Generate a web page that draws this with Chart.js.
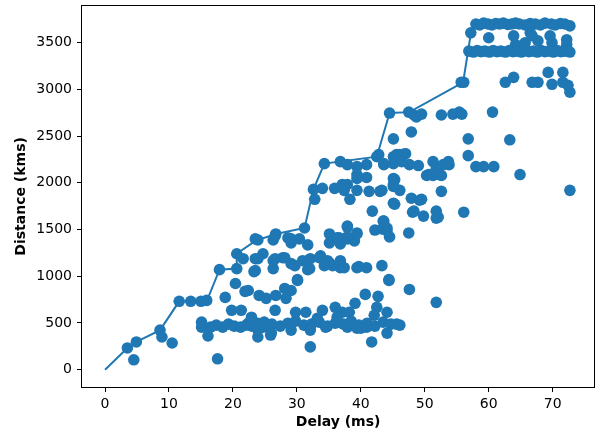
<!DOCTYPE html>
<html>
<head>
<meta charset="utf-8">
<script src="https://cdn.jsdelivr.net/npm/chart.js@4"></script>
<style>
  html, body { margin: 0; padding: 0; background: #fff; }
  #wrap { width: 600px; height: 434px; }
</style>
</head>
<body>
<div id="wrap"><canvas id="chart"></canvas></div>
<script>
// frontier line (delay ms, distance km)
const frontierDelay = [0, 3.5, 4.9, 8.6, 11.6, 15.9, 17.9, 20.6, 20.6, 23.5, 26.7, 31.2, 32.6, 34.3, 42.5, 44.5, 47.6, 56.0, 57.2];
const frontierDistance = [0, 233, 297, 424, 732, 732, 1071, 1082, 1241, 1379, 1453, 1517, 1930, 2206, 2280, 2747, 2757, 3076, 3595];

// measured points
const delayMs = [
  3.5, 4.9, 4.5, 8.6, 8.9, 10.5, 11.6, 13.4, 15.0, 15.9, 17.9, 20.6, 20.6, 21.6, 23.9, 23.3, 20.4, 21.9, 18.8, 24.1,
  15.1, 15.1, 16.1, 17.6, 19.8, 21.3, 16.5, 17.4, 18.4, 19.3, 20.2, 21.2, 22.1, 23.0, 23.9, 24.7, 23.9,
  30.1, 22.4, 25.2, 26.7, 28.1, 29.1, 28.3, 26.6, 29.8, 31.4, 34.0, 36.0, 37.1, 39.1, 38.2, 40.7, 42.7, 44.4, 47.6,
  51.8, 42.5, 44.1, 42.1,
  22.4, 23.6, 24.9, 26.1, 27.4, 28.6, 29.8, 31.1, 32.3, 33.5, 34.8, 36.0, 37.3, 38.5, 39.7, 41.0, 42.2, 43.5, 44.7, 46.1,
  22.9, 25.9, 32.1, 41.7, 44.1, 45.6, 33.2, 36.3, 37.9, 39.4, 40.9,
  23.9, 26.0, 29.1, 32.1, 34.5, 40.0,
  41.8, 43.5, 42.2, 43.3, 44.5, 47.5, 37.9, 35.1, 35.1, 36.6, 37.9, 39.4, 39.0, 36.8, 31.7, 31.2, 29.1, 26.6, 23.9,
  33.7, 35.1, 36.8, 36.8, 35.6, 39.4, 40.9, 43.3, 44.4, 30.1, 31.7, 31.7, 29.1, 27.8, 26.3, 26.3, 24.7,
  34.3, 36.8, 37.9, 39.4, 40.9, 42.5, 43.6, 45.1, 46.1, 46.9, 47.6, 49.0, 51.3, 51.8, 52.9, 50.6, 52.3,
  39.4, 40.9, 39.4, 45.1, 45.1, 46.1,
  32.6, 34.0, 35.9, 37.1, 37.9, 37.4, 39.4, 41.3, 43.0, 38.3, 32.8, 45.1, 47.9, 49.2, 52.6, 48.1, 49.8, 51.8, 51.8, 44.1,
  23.5, 26.7, 26.3, 28.6, 29.1, 30.4, 37.9, 39.4, 37.9, 36.3,
  23.5, 26.6, 28.1, 29.7, 30.9, 32.1, 33.5, 34.8, 34.3, 37.4, 39.7, 32.0, 23.5,
  44.5, 47.5, 48.3, 48.7, 49.5, 52.6, 54.4, 55.4, 55.8, 60.6, 72.7, 45.1, 47.9, 56.8, 63.3, 56.8,
  42.8, 45.6, 47.0, 43.6, 45.1, 46.4, 53.7, 53.8, 50.3, 51.3, 52.6, 58.0, 59.2, 60.8, 64.9, 72.7,
  45.3, 45.1, 43.3, 49.5, 45.3, 48.3, 52.1, 56.1, 43.6, 44.1,
  57.2, 60.0, 63.9, 64.2, 66.5, 66.8, 69.6, 69.9, 72.2, 72.2, 65.7, 67.7,
  56.1, 55.7, 62.6, 63.9, 66.8, 67.7, 69.3, 69.9, 71.6, 71.6, 72.4,
  58.0, 58.6, 59.2, 59.9, 60.5, 61.1, 61.7, 62.3, 63.0, 63.6, 64.2, 64.8, 65.7, 66.5, 67.3, 68.1, 68.8, 69.8, 70.4, 71.2, 71.9, 72.7,
  56.9, 57.6, 58.2, 58.8, 59.4, 60.1, 60.7, 61.3, 61.9, 62.6, 63.2, 63.8, 64.4, 65.1, 65.7, 66.3, 67.0, 67.6, 68.2, 68.8, 69.5, 70.1, 70.7, 71.3, 71.9, 72.7
];
const distanceKm = [
  233, 297, 106, 424, 350, 286, 732, 732, 732, 742, 1071, 1082, 1241, 1188, 1188, 1050, 923, 838, 774, 795,
  509, 456, 361, 117, 636, 636, 456, 477, 456, 488, 467, 456, 477, 467, 498, 456, 350,
  955, 848, 764, 795, 870, 848, 764, 636, 615, 615, 636, 668, 615, 711, 615, 806, 785, 955, 859,
  721, 668, 615, 583,
  498, 477, 509, 488, 467, 498, 519, 477, 488, 509, 467, 498, 488, 519, 477, 498, 467, 509, 488, 477,
  562, 371, 244, 297, 392, 488, 551, 562, 456, 445, 456,
  424, 392, 424, 424, 456, 445,
  1697, 1591, 1495, 1506, 1421, 1464, 1527, 1453, 1358, 1411, 1421, 1464, 1379, 1347, 1336, 1517, 1400, 1432, 1389,
  1220, 1145, 1167, 1092, 1114, 1092, 1092, 1114, 965, 965, 1167, 1071, 1135, 1199, 1167, 1082, 1241,
  2206, 2227, 2195, 2174, 2195, 2280, 2195, 2280, 2302, 2312, 2195, 2185, 2227, 2153, 2195, 2089, 2089,
  2089, 2058, 2047, 2047, 1983, 1920,
  1930, 1941, 1941, 1983, 1983, 1920, 1920, 1909, 1909, 1824, 1824, 1782, 1835, 1814, 1909, 1686, 1644, 1697, 1623, 1485,
  1400, 1453, 1389, 1411, 1358, 1400, 1538, 1453, 1400, 1411,
  1188, 1188, 1199, 1114, 1167, 1188, 1199, 1167, 1114, 1092, 1103, 1082, 1061,
  2747, 2757, 2726, 2705, 2736, 2726, 2736, 2757, 2736, 2757, 2970, 2471, 2545, 2471, 2461, 2291,
  2302, 2302, 2312, 2206, 2206, 2227, 2227, 2195, 2079, 2079, 2079, 2174, 2174, 2174, 2089, 1920,
  2036, 1962, 1920, 1824, 1771, 1697, 1633, 1686, 1591, 1517,
  3606, 3553, 3574, 3479, 3606, 3574, 3574, 3500, 3532, 3479, 3500, 3521,
  3076, 3076, 3076, 3129, 3076, 3076, 3182, 3055, 3182, 3076, 3044,
  3700, 3690, 3710, 3700, 3690, 3705, 3700, 3710, 3695, 3700, 3710, 3700, 3690, 3705, 3700, 3690, 3710, 3700, 3690, 3705, 3700, 3680,
  3410, 3400, 3415, 3405, 3410, 3400, 3415, 3405, 3410, 3400, 3415, 3405, 3410, 3400, 3415, 3405, 3410, 3400, 3415, 3405, 3410, 3400, 3415, 3405, 3410, 3400
];

const xTicks = [0, 10, 20, 30, 40, 50, 60, 70];
const yTicks = [0, 500, 1000, 1500, 2000, 2500, 3000, 3500];

const blue = '#1f77b4';
const font = { family: 'DejaVu Sans', size: 14 };

// matplotlib-style box round the plot
const frame = {
  id: 'frame',
  afterDraw(chart) {
    const { ctx, chartArea: a } = chart;
    ctx.save();
    ctx.strokeStyle = '#000';
    ctx.lineWidth = 1;
    ctx.strokeRect(Math.round(a.left) - 0.5, Math.round(a.top) - 0.5,
                   Math.round(a.right - a.left) + 1, Math.round(a.bottom - a.top) + 1);
    ctx.restore();
  }
};

new Chart(document.getElementById('chart'), {
  type: 'scatter',
  data: {
    datasets: [
      {
        label: 'frontier',
        data: frontierDelay.map((d, i) => ({ x: d, y: frontierDistance[i] })),
        showLine: true,
        borderColor: blue,
        borderWidth: 2,
        pointRadius: 0,
        fill: false
      },
      {
        label: 'points',
        data: delayMs.map((d, i) => ({ x: d, y: distanceKm[i] })),
        backgroundColor: blue,
        borderWidth: 0,
        pointRadius: 5.8
      }
    ]
  },
  options: {
    responsive: true,
    maintainAspectRatio: false,
    animation: false,
    layout: { padding: { top: 2, right: 2, left: 0, bottom: 0 } },
    plugins: { legend: { display: false }, tooltip: { enabled: false } },
    scales: {
      x: {
        type: 'linear',
        min: -3.6,
        max: 76.5,
        afterBuildTicks: axis => { axis.ticks = xTicks.map(v => ({ value: v })); },
        afterFit: axis => { axis.height = 47; axis.paddingLeft = 0; axis.paddingRight = 0; },
        grid: { drawOnChartArea: false, drawTicks: true, tickLength: 5, color: '#000' },
        border: { display: false },
        ticks: { color: '#000', font: font, padding: 4, maxRotation: 0, callback: v => String(v) },
        title: { display: true, text: 'Delay (ms)', color: '#000',
                 font: { family: 'DejaVu Sans', size: 14, weight: 'bold' }, padding: { top: 0, bottom: 3 } }
      },
      y: {
        type: 'linear',
        min: -185,
        max: 3895,
        afterBuildTicks: axis => { axis.ticks = yTicks.map(v => ({ value: v })); },
        afterFit: axis => { axis.width = 82; axis.paddingTop = 0; axis.paddingBottom = 0; },
        grid: { drawOnChartArea: false, drawTicks: true, tickLength: 5, color: '#000' },
        border: { display: false },
        ticks: { color: '#000', font: font, padding: 5, callback: v => String(v) },
        title: { display: true, text: 'Distance (kms)', color: '#000',
                 font: { family: 'DejaVu Sans', size: 14, weight: 'bold' }, padding: { top: 13, bottom: 0 } }
      }
    }
  },
  plugins: [frame]
});
</script>
</body>
</html>
